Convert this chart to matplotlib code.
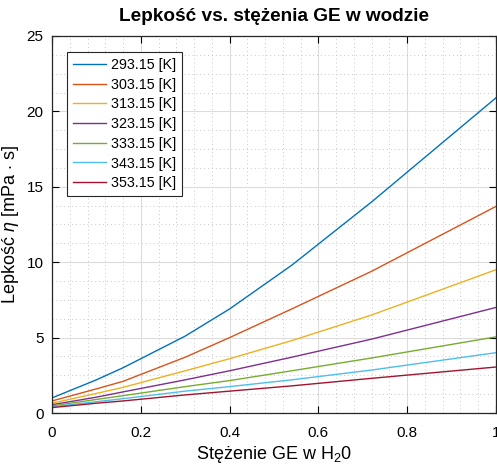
import numpy as np
import matplotlib
matplotlib.use("Agg")
import matplotlib.pyplot as plt
from matplotlib.ticker import MultipleLocator, FormatStrFormatter

plt.rcParams['font.family'] = ['Liberation Sans', 'DejaVu Sans']
plt.rcParams['mathtext.fontset'] = 'custom'
plt.rcParams['mathtext.rm'] = 'Liberation Sans'
plt.rcParams['mathtext.it'] = 'Liberation Sans:italic'

# stężenie GE (ułamek)
stezenie = [0, 0.1, 0.16, 0.3, 0.4, 0.54, 0.72, 1.0]
temperatury = ["293.15", "303.15", "313.15", "323.15", "333.15", "343.15", "353.15"]

# lepkość [mPa s] dla kolejnych temperatur
eta_293 = [1.0, 2.2, 3.0, 5.1, 6.9, 9.8, 14.0, 20.9]
eta_303 = [0.8, 1.6, 2.1, 3.7, 5.0, 6.9, 9.4, 13.7]
eta_313 = [0.65, 1.3, 1.7, 2.8, 3.6, 4.8, 6.5, 9.5]
eta_323 = [0.55, 1.05, 1.4, 2.2, 2.8, 3.7, 4.9, 7.0]
eta_333 = [0.47, 0.9, 1.15, 1.75, 2.15, 2.8, 3.65, 5.05]
eta_343 = [0.41, 0.75, 0.95, 1.45, 1.75, 2.2, 2.85, 4.0]
eta_353 = [0.36, 0.65, 0.8, 1.2, 1.45, 1.8, 2.3, 3.05]
lepkosci = [eta_293, eta_303, eta_313, eta_323, eta_333, eta_343, eta_353]

kolory = [(0, 0.447, 0.741), (0.85, 0.325, 0.098), (0.929, 0.694, 0.125),
          (0.494, 0.184, 0.556), (0.466, 0.674, 0.188), (0.301, 0.745, 0.933),
          (0.635, 0.078, 0.184)]

fig = plt.figure(figsize=(4.97, 4.67), dpi=100)
ax = fig.add_axes([0.1046, 0.1156, 0.8934, 0.8074])

for T, eta, c in zip(temperatury, lepkosci, kolory):
    ax.plot(stezenie, eta, color=c, linewidth=1.0, label=T + " [K]")

ax.set_xlim(0, 1)
ax.set_ylim(0, 25)
ax.xaxis.set_major_locator(MultipleLocator(0.2))
ax.xaxis.set_minor_locator(MultipleLocator(0.04))
ax.yaxis.set_major_locator(MultipleLocator(5))
ax.yaxis.set_minor_locator(MultipleLocator(1.25))
ax.xaxis.set_major_formatter(FormatStrFormatter('%g'))
ax.tick_params(which='both', direction='in', top=True, right=True, labelsize=11)
ax.tick_params(which='major', length=5)
ax.tick_params(axis='x', which='major', pad=9)
ax.tick_params(axis='y', which='major', pad=6)
ax.tick_params(which='minor', length=0)
ax.grid(which='major', color='#dcdcdc', linewidth=0.8)
ax.grid(which='minor', color='#c8c8c8', linestyle=(0, (1, 3)), linewidth=0.7)
ax.set_axisbelow(True)
for s in ax.spines.values():
    s.set_color('#262626')
    s.set_linewidth(0.9)

ax.set_title("Lepkość vs. stężenia GE w wodzie", fontsize=13.7, fontweight='bold', pad=11)
ax.set_xlabel("Stężenie GE w H$_2$0", fontsize=13, labelpad=3)
ax.set_ylabel(r"Lepkość $\eta$ [mPa $\cdot$ s]", fontsize=13, labelpad=4)

leg = ax.legend(loc='upper left', bbox_to_anchor=(0.034, 0.957), fontsize=10.3,
                fancybox=False, framealpha=1, edgecolor='#262626',
                handlelength=2.3, handletextpad=0.4, labelspacing=0.4,
                borderpad=0.4, borderaxespad=0)
leg.get_frame().set_linewidth(0.8)

fig.savefig("out.png", dpi=100)
